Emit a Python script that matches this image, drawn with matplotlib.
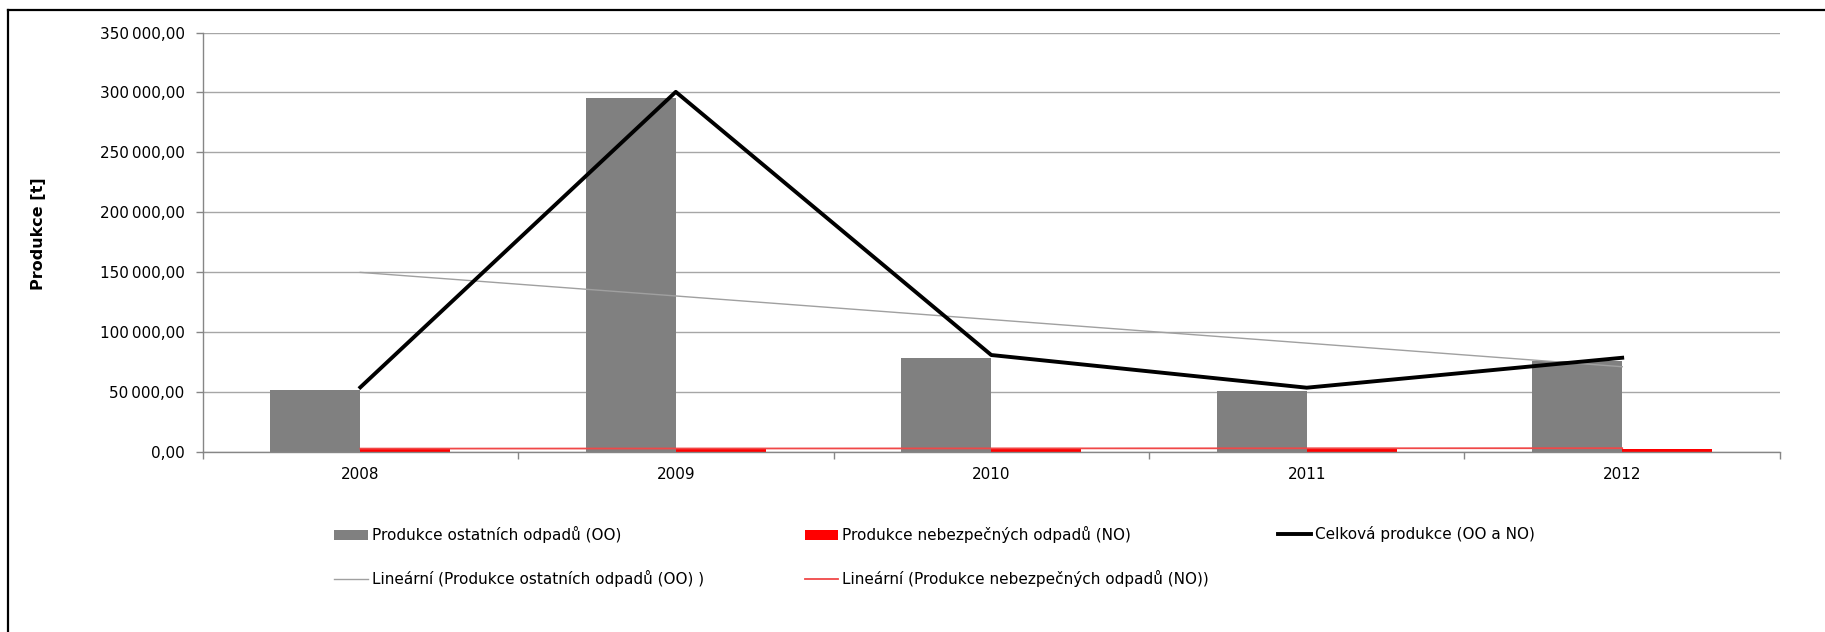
import numpy as np
import matplotlib
matplotlib.use("Agg")
import matplotlib.pyplot as plt
from matplotlib.lines import Line2D
from matplotlib.ticker import FuncFormatter

# data
years = ["2008", "2009", "2010", "2011", "2012"]
oo_vals = [51800, 295500, 78000, 50500, 75800]     # Produkce ostatnich odpadu
no_vals = [1900, 3400, 2700, 2900, 2600]           # Produkce nebezpecnych odpadu
total_vals = [53700, 300500, 80700, 53400, 78400]  # Celkova produkce

plt.rcParams['font.family'] = ['DejaVu Sans']

fig = plt.figure(figsize=(18.25, 6.32), dpi=100)
ax = fig.add_axes([0.111, 0.2854, 0.8643, 0.663])

x = np.arange(len(years))
w = 0.2853

ax.bar(x - w / 2, oo_vals, width=w, color="#808080", zorder=2,
       label="Produkce ostatních odpadů (OO)")
ax.bar(x + w / 2, no_vals, width=w, color="#ff0000", zorder=2,
       label="Produkce nebezpečných odpadů (NO)")
ax.plot(x, total_vals, color="black", lw=2.8, zorder=4,
        label="Celková produkce (OO a NO)")

# linear trends
k1, q1 = np.polyfit(x, oo_vals, 1)
ax.plot(x, k1 * x + q1, color="#a0a0a0", lw=1.0, zorder=3,
        label="Lineární (Produkce ostatních odpadů (OO) )")
k2, q2 = np.polyfit(x, no_vals, 1)
ax.plot(x, k2 * x + q2, color="#f04848", lw=1.3, zorder=3,
        label="Lineární (Produkce nebezpečných odpadů (NO))")

ax.set_xlim(-0.5, len(years) - 0.5)
ax.set_ylim(0, 350000)
ax.set_yticks(np.arange(0, 350001, 50000))
ax.yaxis.set_major_formatter(FuncFormatter(
    lambda v, p: "{:,.2f}".format(v).replace(",", "\u2009").replace(".", ",")))
ax.set_xticks(x)
ax.set_xticklabels(years)
ax.set_xticks(np.arange(-0.5, len(years)), minor=True)
ax.tick_params(axis="x", which="major", length=0, pad=11, labelsize=11)
ax.tick_params(axis="x", which="minor", length=5, color="#868686", width=1)
ax.tick_params(axis="y", length=5, color="#868686", width=1, pad=8, labelsize=11)

ax.yaxis.grid(True, color="#a6a6a6", lw=1.0, zorder=0)
ax.set_axisbelow(True)
for s in ["top", "right"]:
    ax.spines[s].set_visible(False)
for s in ["left", "bottom"]:
    ax.spines[s].set_color("#868686")
    ax.spines[s].set_linewidth(1.0)

ax.set_ylabel("Produkce [t]", fontsize=11.5, fontweight="bold")
ax.yaxis.set_label_coords(-0.0995, 0.52)

h, l = ax.get_legend_handles_labels()
hd = dict(zip(l, h))
cols = [
    (0.183, ["Produkce ostatních odpadů (OO)", "Lineární (Produkce ostatních odpadů (OO) )"]),
    (0.441, ["Produkce nebezpečných odpadů (NO)", "Lineární (Produkce nebezpečných odpadů (NO))"]),
    (0.700, ["Celková produkce (OO a NO)"]),
]
for cx, labs in cols:
    fig.legend([hd[s] for s in labs], labs, loc="upper left",
               bbox_to_anchor=(cx, 0.167), bbox_transform=fig.transFigure,
               frameon=False, fontsize=11, borderpad=0, borderaxespad=0,
               handlelength=2.2, handletextpad=0.26, labelspacing=1.75)

# chart frame (left and top edges)
fig.add_artist(Line2D([8 / 1825, 8 / 1825], [0, 1 - 10 / 632], color="black", lw=1.6))
fig.add_artist(Line2D([8 / 1825, 1], [1 - 10 / 632, 1 - 10 / 632], color="black", lw=1.6))

fig.savefig("out.png", dpi=100)
